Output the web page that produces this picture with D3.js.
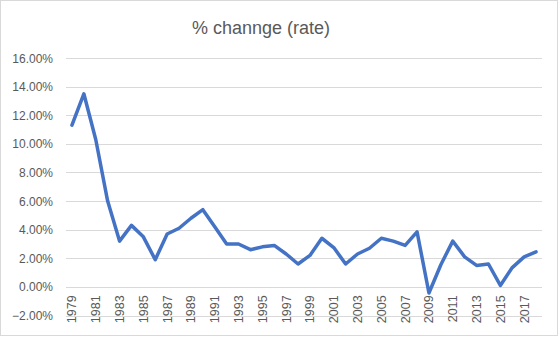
<!DOCTYPE html>
<html>
<head>
<meta charset="utf-8">
<script src="https://cdn.jsdelivr.net/npm/d3@7"></script>
<style>
  body { margin: 0; background: #fff; }
  text { font-family: "Liberation Sans", Arial, sans-serif; fill: #595959; }
</style>
</head>
<body>
<div id="graph"></div>
<script>
// Data
const years = d3.range(1979, 2019)
const rates = [11.3, 13.5, 10.3, 6.0, 3.2, 4.3, 3.5, 1.9, 3.7, 4.1,
  4.8, 5.4, 4.2, 3.0, 3.0, 2.6, 2.8, 2.9, 2.3, 1.6,
  2.2, 3.4, 2.75, 1.6, 2.3, 2.7, 3.4, 3.2, 2.9, 3.85,
  -0.43, 1.55, 3.2, 2.1, 1.5, 1.6, 0.1, 1.35, 2.1, 2.45]
const yTicks = [-2, 0, 2, 4, 6, 8, 10, 12, 14, 16]
const title = '% channge (rate)'

const total_width = 560
const total_height = 337
const margins = { top: 58, left: 66, right: 18, bottom: 22 }
const width = total_width - margins.left - margins.right
const height = 315.5 - margins.top

const svg = d3.select('#graph').append('svg')
  .attr('width', total_width)
  .attr('height', total_height)

// outer chart border
svg.append('rect')
  .attr('x', 0.5).attr('y', 0.5)
  .attr('width', total_width - 3).attr('height', total_height - 2)
  .attr('fill', '#fff')
  .attr('stroke', '#d9d9d9')

svg.append('text')
  .attr('x', 261).attr('y', 34)
  .attr('text-anchor', 'middle')
  .style('font-size', '18px')
  .text(title)

const g = svg.append('g')
  .attr('transform', `translate(${margins.left}, ${margins.top})`)

const x = d3.scaleBand().domain(years).range([0, width])
const y = d3.scaleLinear().domain([-2, 16]).range([height, 0])

// gridlines
g.selectAll('.grid')
  .data(yTicks)
  .enter()
  .append('line')
  .attr('class', 'grid')
  .attr('x1', 0).attr('x2', width)
  .attr('y1', d => Math.round(y(d)) + 0.5)
  .attr('y2', d => Math.round(y(d)) + 0.5)
  .attr('stroke', '#d9d9d9')
  .attr('stroke-width', 1)

// y labels
g.selectAll('.ylab')
  .data(yTicks)
  .enter()
  .append('text')
  .attr('x', -13)
  .attr('y', d => y(d) + 4.5)
  .attr('text-anchor', 'end')
  .style('font-size', '12px')
  .text(d => d3.format('.2f')(d) + '%')

// x labels (every other year)
const xAxisCall = d3.axisBottom(x)
  .tickValues(years.filter((d, i) => i % 2 === 0))
  .tickSize(0)
  .tickPadding(0)
const xAxis = g.append('g')
  .attr('transform', `translate(0, ${y(0)})`)
  .call(xAxisCall)
xAxis.select('.domain').remove()
xAxis.selectAll('text')
  .attr('transform', 'rotate(-90)')
  .attr('x', -8.5)
  .attr('y', 0)
  .attr('dy', '0.35em')
  .attr('text-anchor', 'end')
  .style('font-size', '12.5px')
  .style('font-family', '"Liberation Sans", Arial, sans-serif')
  .attr('fill', '#595959')

// the line
const line = d3.line()
  .x((d, i) => x(years[i]) + x.bandwidth() / 2)
  .y(d => y(d))

g.append('path')
  .datum(rates)
  .attr('fill', 'none')
  .attr('stroke', '#4472c4')
  .attr('stroke-width', 3.5)
  .attr('stroke-linejoin', 'round')
  .attr('stroke-linecap', 'round')
  .attr('d', line)
</script>
</body>
</html>
